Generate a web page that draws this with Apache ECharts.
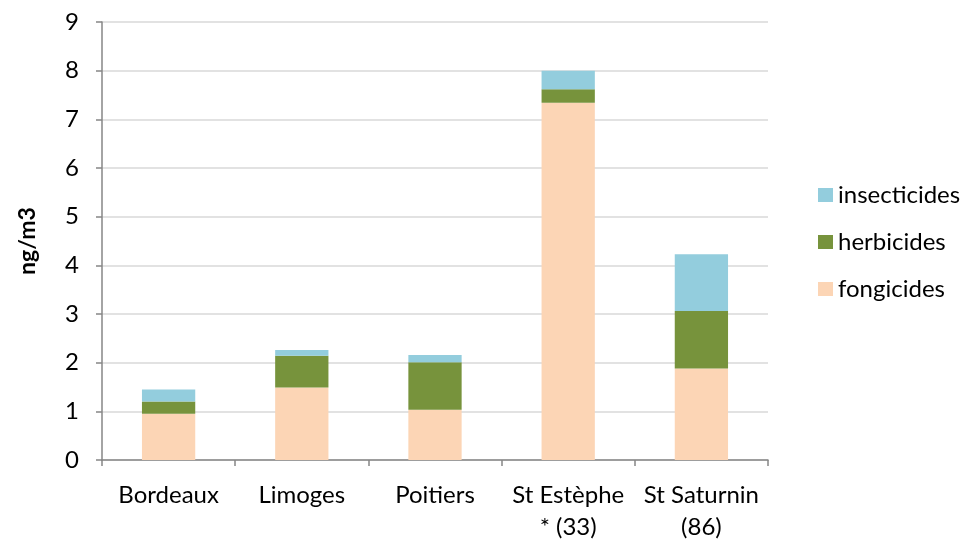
<!DOCTYPE html>
<html>
<head>
<meta charset="utf-8">
<script src="https://cdn.jsdelivr.net/npm/echarts@6/dist/echarts.min.js"></script>
<style>
  html, body { margin: 0; padding: 0; background: #fff; }
  #chart { width: 961px; height: 540px; }
</style>
</head>
<body>
<div id="chart"></div>
<script>
// Sites sampled and the pesticide concentrations (ng/m3) per family
const sites = ['Bordeaux', 'Limoges', 'Poitiers', 'St Estèphe\n* (33)', 'St Saturnin\n(86)'];
const fongicides = [0.95, 1.49, 1.03, 7.34, 1.88];
const herbicides = [0.25, 0.65, 0.98, 0.28, 1.18];
const insecticides = [0.25, 0.12, 0.15, 0.38, 1.17];
const yTicks = { min: 0, max: 9, interval: 1 };

const fontFamily = 'Lato, "Open Sans", sans-serif';
const axisGrey = '#868686';

const chart = echarts.init(document.getElementById('chart'), null, { renderer: 'canvas' });

function barSeries(name, data, color) {
  return {
    name: name,
    type: 'bar',
    stack: 'total',
    barWidth: '40%',
    data: data,
    itemStyle: { color: color },
    emphasis: { disabled: true }
  };
}

chart.setOption({
  animation: false,
  textStyle: { fontFamily: fontFamily },
  grid: { left: 102, right: 193, top: 22, bottom: 80, containLabel: false, outerBoundsMode: 'none' },
  legend: {
    orient: 'vertical',
    left: 813,
    top: 178,
    itemGap: 23,
    itemWidth: 15,
    itemHeight: 14,
    icon: 'rect',
    data: ['insecticides', 'herbicides', 'fongicides'],
    textStyle: { fontSize: 24, color: '#000', fontFamily: fontFamily }
  },
  xAxis: {
    type: 'category',
    data: sites,
    axisLine: { lineStyle: { color: axisGrey, width: 1.5 } },
    axisTick: { show: true, length: 6, lineStyle: { color: axisGrey, width: 1.5 } },
    axisLabel: { color: '#000', fontSize: 24, margin: 19, lineHeight: 32, interval: 0, fontFamily: fontFamily }
  },
  yAxis: {
    type: 'value',
    min: yTicks.min,
    max: yTicks.max,
    interval: yTicks.interval,
    name: 'ng/m3',
    nameLocation: 'middle',
    nameGap: 63,
    nameTextStyle: { fontSize: 23, fontWeight: 'bold', color: '#000', fontFamily: fontFamily },
    axisLine: { show: true, lineStyle: { color: axisGrey, width: 1.5 } },
    axisTick: { show: true, length: 6, lineStyle: { color: axisGrey, width: 1.5 } },
    axisLabel: { color: '#000', fontSize: 24, margin: 23, fontFamily: fontFamily },
    splitLine: { lineStyle: { color: '#d9d9d9', width: 1.5 } }
  },
  series: [
    barSeries('fongicides', fongicides, '#fcd5b5'),
    barSeries('herbicides', herbicides, '#77933c'),
    barSeries('insecticides', insecticides, '#93cddd')
  ]
});
</script>
</body>
</html>
